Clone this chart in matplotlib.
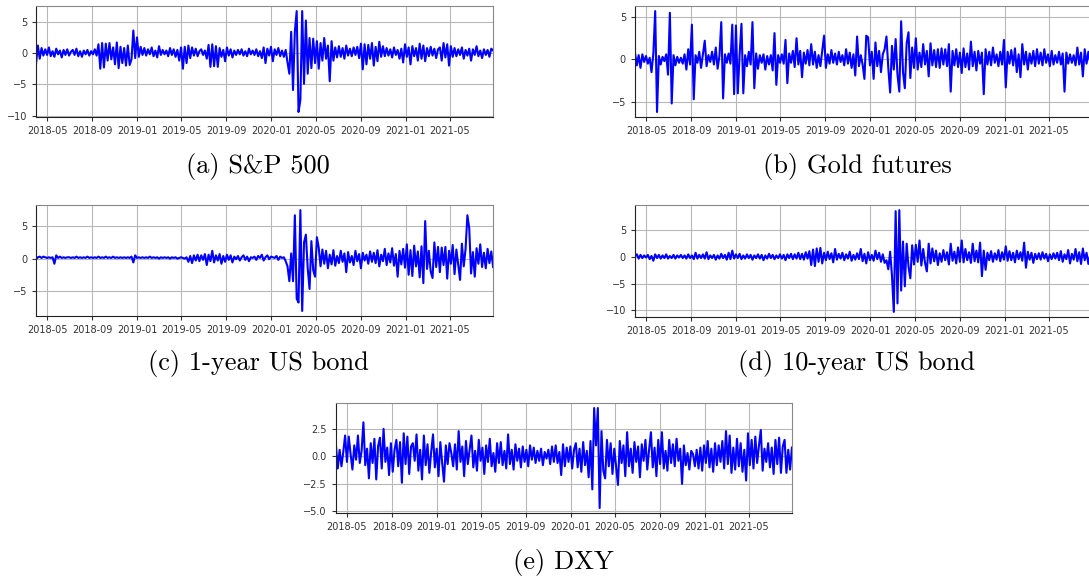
import matplotlib
matplotlib.use('Agg')
import matplotlib.pyplot as plt
import matplotlib.dates as mdates
import numpy as np
import pandas as pd

# sampled daily returns (standardised), roughly every 5 days from 2018-04-01 to 2021-08-27
start_date = '2018-04-01'
end_date = '2021-08-27'

sp500 = [
    -1.7, 1.2, -0.9, 0.8, -0.4, 0.6, -0.3, 0.9, -0.5, 0.3,
    -0.6, 0.7, -0.2, 0.4, -0.7, 0.5, -0.3, 0.6, -0.4, 0.2,
    0.5, -0.3, 0.7, -0.5, 0.3, -0.6, 0.4, -0.2, 0.5, -0.4,
    0.3, -0.2, 0.6, -0.4, 1.4, -2.5, 1.6, -2.3, 1.5, -1.2,
    1.6, -1.0, 0.9, -1.8, 1.7, -2.4, 1.0, -1.6, 0.8, -2.0,
    1.2, -1.9, -1.0, 3.6, -0.8, 2.5, -0.6, 1.0, -0.3, 0.8,
    -0.4, 0.6, -0.2, 0.9, -0.5, 0.4, -0.7, 1.1, -0.3, 0.5,
    -0.2, 0.4, -0.5, 0.8, -0.3, 0.6, -0.6, 0.5, -1.2, 0.9,
    -2.5, 1.0, -1.6, 1.2, -0.8, 0.9, -0.4, 0.7, -0.5, 0.3,
    0.6, -0.3, 0.4, -0.9, 1.3, -2.2, 1.4, -2.1, 1.1, -2.2,
    0.8, -0.6, 0.5, -1.3, 0.9, -0.4, 0.6, -0.7, 0.4, -0.3,
    0.5, -0.2, 0.6, -0.4, 0.3, -0.5, 0.7, -0.2, 0.4, -0.3,
    0.6, -0.5, 0.3, -0.8, 0.9, -1.6, 0.7, -0.4, 1.0, -1.3,
    0.6, -0.3, 0.8, -0.5, 0.4, -0.6, 0.5, -1.5, -3.3, 3.4,
    -5.9, 3.5, 6.7, -9.4, -7.5, 6.7, -4.9, 5.2, -3.3, 2.4,
    -2.4, 2.3, -1.6, 1.9, -2.5, 1.6, -1.2, 2.4, -0.9, 1.2,
    -4.5, 1.9, -1.2, 0.9, -0.7, 1.1, -0.6, 0.8, -0.9, 1.2,
    -0.4, 0.7, -0.5, 0.9, -0.3, 1.0, -0.8, 1.5, -2.6, 1.4,
    -1.8, 1.3, -0.9, 1.6, -2.0, 1.0, -1.3, 1.8, -0.6, 1.1,
    -0.5, 0.8, -0.4, 0.6, -0.7, 0.9, -0.3, 0.5, -0.9, 0.7,
    -1.5, 1.4, -0.6, 0.9, -1.8, 1.1, -0.5, 0.8, -1.2, 1.5,
    -0.9, 1.2, -1.3, 0.8, -0.5, 1.0, -0.4, 0.7, -0.8, 0.6,
    0.9, -1.2, 1.6, -0.7, 1.4, -2.0, 1.1, -0.6, 0.8, -0.5,
    0.6, -0.3, 0.9, -0.9, 0.5, -0.4, 0.7, -1.2, 0.6, -0.3,
    1.1, -0.5, 0.4, -0.8, 0.6, -0.3, 0.5, -0.6, 0.7, 0.4,
]

gold = [
    0.8, -0.7, 0.5, -1.0, 0.6, -0.3, 0.4, -0.5, 0.2, -1.5,
    0.7, 5.7, -6.2, 0.4, -0.6, 0.3, -0.2, 0.6, -1.8, 5.5,
    -5.2, 0.5, -0.7, 0.3, -0.4, 0.2, -0.5, 0.6, -1.2, 1.2,
    -0.6, 4.1, -4.7, 0.5, -0.4, 0.9, -1.0, 0.6, 2.2, -0.8,
    0.5, -0.3, 0.9, -0.6, 1.4, -1.1, 0.4, 4.4, -4.6, 0.6,
    -0.4, 0.7, -0.5, 4.1, -4.1, 4.0, -4.0, 0.6, 4.2, -4.0,
    0.5, -0.8, 0.9, -0.6, 4.4, -3.4, 0.7, -1.1, 0.5, -0.4,
    0.6, -1.2, 0.4, -0.6, 0.5, -1.3, 3.1, -3.0, 0.5, -0.4,
    0.6, -0.5, 2.3, -2.8, 0.7, -0.4, 1.0, -0.9, 2.5, -0.6,
    1.0, -2.1, 0.8, -0.5, 1.1, -0.7, 1.8, -0.6, 0.9, -1.0,
    0.5, -0.8, 1.0, 2.8, -1.0, 0.6, -0.5, 1.1, -0.4, 0.7,
    -0.6, 0.9, -0.3, 0.5, -0.7, 1.2, -0.5, 0.8, -1.0, 0.6,
    -1.9, 2.7, -0.8, 0.5, -0.6, -2.3, 2.8, 2.6, -0.7, 0.9,
    -2.3, 2.0, -0.8, 1.0, -1.5, 0.6, 1.2, 2.7, -1.0, -3.9,
    1.6, -1.2, 2.4, -1.8, -3.8, 4.5, -1.5, -3.4, 1.9, 3.2,
    -2.2, 1.4, -1.0, 2.5, -1.2, 0.8, -0.9, 1.8, -0.6, 1.0,
    -2.0, 1.9, -0.7, 1.1, -0.9, 1.2, -1.0, 1.3, -0.6, 1.2,
    -0.8, 1.8, -3.8, 1.0, -0.7, 1.2, -0.9, 0.8, -1.6, 1.3,
    -0.9, 0.7, -1.2, 2.1, -0.8, 0.9, -1.3, 1.0, -0.5, 0.8,
    -4.1, 1.2, -0.6, 0.9, -0.7, 1.4, -0.4, 0.6, -0.8, 0.9,
    -0.6, 2.3, -3.3, 0.9, -0.5, 1.1, -0.7, 1.3, -1.5, 0.6,
    -2.1, 1.8, -0.6, 0.9, -1.2, 0.7, -0.5, 1.0, -0.8, 1.2,
    -0.5, 0.8, -0.7, 1.2, -0.4, 0.6, -0.8, 1.0, -0.6, 0.5,
    -0.4, 0.9, -0.6, 0.7, -3.8, 0.8, -0.5, 0.6, -0.4, 0.5,
    -0.7, 1.4, -0.6, 0.8, -2.0, 1.2, -0.5, 0.9, -0.4, 0.5,
]

bond_1y = [
    -0.1, 0.2, 0.3, 0.1, 0.3, 0.2, 0.1, 0.2, 0.1, 0.2,
    -0.8, 0.5, 0.1, 0.3, 0.1, 0.2, 0.1, 0.2, 0.2, 0.1,
    0.2, 0.1, 0.3, 0.1, 0.2, 0.1, 0.2, 0.1, 0.3, 0.1,
    0.2, 0.1, 0.2, 0.1, 0.3, 0.1, 0.2, 0.1, 0.3, 0.1,
    0.2, 0.1, 0.3, 0.1, 0.2, 0.1, 0.2, 0.1, 0.2, 0.1,
    0.2, 0.1, 0.3, -0.6, 0.5, 0.1, 0.2, 0.1, 0.2, 0.1,
    0.2, 0.1, 0.3, 0.1, 0.2, 0.1, 0.2, 0.0, 0.2, 0.1,
    0.2, 0.1, 0.2, 0.0, 0.2, 0.1, 0.2, 0.0, 0.1, 0.2,
    0.1, 0.0, 0.2, -0.5, 0.4, -0.7, 0.5, -0.3, 0.6, -0.4,
    0.5, -0.2, 0.7, -1.0, 0.6, -0.4, 1.2, -0.6, 0.5, -0.3,
    0.7, -0.8, 0.4, -0.5, 0.6, -0.2, 0.5, -0.6, 0.3, -0.1,
    0.4, -0.3, 0.2, 0.5, -0.2, 0.3, -0.4, 0.2, 0.1, 0.3,
    -0.2, 0.4, 0.1, 0.6, -0.3, 0.2, 0.5, -0.1, 0.3, 0.2,
    0.1, 0.4, -0.2, 0.3, 0.1, 0.2, -0.4, -1.2, -3.5, 0.8,
    -3.5, 6.7, -6.2, -6.8, 7.5, -8.1, 2.5, 3.7, -1.5, -4.7,
    2.7, -1.8, -2.8, 3.3, 1.7, -1.2, 1.4, -0.8, 1.2, -1.5,
    0.6, -0.9, 1.3, -1.1, 0.4, -0.7, 1.2, -0.5, 0.8, -2.1,
    1.0, -0.6, 0.4, -1.0, 1.2, -0.4, 0.7, -1.5, 0.9, -0.3,
    0.6, -0.8, 1.1, -0.5, 0.9, -0.7, 1.3, -1.2, 0.6, -0.4,
    1.5, -1.0, 0.8, -0.6, 1.6, -1.1, 0.7, -2.8, 1.2, -0.9,
    1.5, -1.4, 2.2, -2.5, 1.3, -2.7, 2.0, -1.2, 1.1, -2.9,
    1.9, -3.8, 5.8, -1.6, 1.2, -2.0, -3.0, 2.5, -1.3, 1.8,
    -2.1, 1.7, -1.0, 1.8, -3.1, 1.2, -0.8, 2.1, -2.4, 1.4,
    -1.0, -3.3, 2.3, -1.2, 1.5, 6.7, 4.7, -2.3, 1.0, -2.8,
    1.6, -0.8, 2.2, -1.3, 0.9, -1.5, 1.5, -0.7, 1.1, -1.3,
]

bond_10y = [
    0.1, 0.5, -0.3, 0.4, -0.2, 0.3, -0.1, 0.4, -0.4, 0.2,
    -0.7, 0.5, -0.2, 0.4, -0.3, 0.3, -0.2, 0.5, -0.3, 0.2,
    -0.2, 0.4, -0.3, 0.3, -0.1, 0.4, -0.2, 0.3, -0.3, 0.5,
    -0.2, 0.3, -0.4, 0.8, -0.3, 0.4, -0.2, 0.5, -0.3, 0.9,
    -0.4, 0.3, -0.2, 0.4, -0.5, 0.3, -0.3, 0.6, -0.2, 0.4,
    -0.5, 0.8, -0.4, 1.2, -0.3, 0.5, -0.2, 0.6, -0.4, 0.3,
    -0.3, 0.5, -0.2, 0.4, -0.5, 0.3, -0.2, 0.5, -0.3, 0.4,
    -0.6, 0.3, -0.3, 0.6, -0.2, 0.4, -0.4, 0.3, -0.2, 0.5,
    -0.3, 0.4, -0.6, 0.5, -0.2, 0.6, -0.4, 0.5, -0.3, 0.8,
    -0.4, 0.6, -0.5, 0.9, -0.3, 1.1, -1.5, 1.4, -1.7, 1.6,
    -0.9, 1.7, -1.2, 0.8, -0.6, 1.0, -0.4, 0.7, -1.0, 1.5,
    -0.5, 0.6, -0.3, 0.8, -0.6, 0.5, -0.3, 1.0, -0.7, 0.4,
    -0.5, 0.7, -0.4, 1.5, -0.8, 0.6, -1.2, 0.9, -0.6, 0.4,
    -0.7, 1.2, -0.4, 0.8, -0.9, 0.5, -1.1, -0.6, -2.3, 1.0,
    -3.5, -10.3, 8.6, -8.7, 8.8, -6.3, 2.9, -5.5, 2.5, -1.8,
    -4.0, 2.2, -1.4, 2.3, -0.9, 3.1, -1.6, 1.5, -1.1, -2.7,
    2.5, -1.2, 1.6, -0.8, 1.2, -1.5, 0.7, -0.9, 1.3, -0.6,
    0.9, -1.4, 2.5, -0.7, 1.0, -1.2, 1.8, -0.9, 3.1, -1.0,
    1.5, -0.6, 0.9, -1.1, 2.5, -0.8, 1.2, -1.0, 2.7, -3.6,
    1.2, -2.4, 0.8, -0.6, 1.1, -0.9, 0.7, -0.5, 1.3, -0.8,
    0.9, -0.5, 2.0, -0.7, 1.1, -0.6, 0.8, -1.0, 1.2, -0.4,
    0.9, -0.7, 2.7, -2.0, 1.0, -0.5, 0.8, -1.1, 0.6, -0.4,
    0.7, -0.5, 0.9, -0.3, 0.6, -0.8, 0.5, -0.4, 0.7, -0.3,
    0.8, -0.6, 1.1, -0.9, 0.5, -0.4, 1.3, -1.2, 0.6, -0.5,
    1.5, -0.8, 0.9, -1.3, 1.6, -0.6, 0.8, -1.3, 0.4, -0.2,
]

dxy = [
    1.0, -1.1, 0.6, -0.9, 0.4, 1.9, -0.5, 1.8, 0.2, -1.2,
    1.0, -0.3, 1.9, -0.6, 0.5, 3.1, -0.8, 0.7, -2.0, 1.2,
    -0.6, 1.6, -2.1, 0.9, 1.7, -1.1, 2.5, -0.5, 0.8, -1.7,
    1.2, -1.4, 0.6, 1.5, -0.9, 1.3, -2.4, 2.1, -0.7, 1.8,
    -1.6, 0.9, 1.2, -0.4, 2.0, -1.3, 0.6, -2.1, 1.9, -0.8,
    1.1, -1.5, 0.4, 2.0, -1.0, 0.7, -1.8, 1.3, -0.6, -2.3,
    1.0, -0.7, 1.2, 0.3, -0.9, 1.1, -1.2, 2.3, -0.5, 0.9,
    -1.8, 1.4, -0.7, 0.6, 1.9, -1.0, 0.5, -1.3, 1.5, -0.4,
    0.8, -1.6, 1.0, -0.5, 1.6, -0.9, 0.3, -1.4, 1.2, -0.6,
    1.3, -0.8, 0.5, -1.1, 2.0, -0.7, 0.6, -1.2, 1.1, -0.4,
    0.7, -1.0, 0.9, -0.5, 0.6, -0.9, 1.0, -0.3, 0.8, -0.6,
    0.5, -0.4, 0.7, -0.8, 0.4, -0.2, 0.6, -0.7, 0.9, -0.5,
    1.0, -0.6, 0.4, -1.7, 1.1, -0.9, 0.8, -0.5, 0.9, -1.1,
    0.6, 1.2, -1.0, 0.7, -1.4, 1.3, -0.8, 0.5, -1.9, 1.4,
    -3.0, 4.4, 1.0, 4.4, -4.7, 2.3, -1.3, -2.0, 1.5, -0.9,
    1.2, -1.6, 0.7, -1.0, -2.6, 1.4, -0.6, 1.0, -1.8, 2.2,
    -0.9, 0.7, -1.5, 1.3, -0.5, 0.9, -1.9, 1.1, -0.4, 1.5,
    -1.2, 0.6, 2.2, -1.0, 0.8, -1.8, 1.5, -0.7, 2.2, -1.1,
    0.5, -1.3, 1.5, -0.6, 1.1, -0.9, 1.6, -0.4, 0.7, -2.5,
    1.0, -0.8, 0.3, -1.2, 0.5, 0.2, -0.9, 0.6, -1.1, 0.8,
    -1.3, 1.0, -0.6, 1.4, -1.0, 0.7, -1.4, 1.2, -0.8, 1.0,
    -0.5, 1.4, -1.1, 2.3, -0.7, 1.9, -1.5, 0.8, -1.2, 1.6,
    -0.9, 1.2, -1.4, 0.6, -2.2, 2.1, -0.8, 1.5, -1.1, 1.8,
    -0.6, 1.0, 2.4, -1.3, 0.7, -0.5, 1.2, -1.0, 0.8, -1.6,
    1.5, -0.7, 1.7, -1.5, 0.9, 1.5, -1.5, 0.6, -1.2, 0.8,
]

captions = ['(a) S&P 500', '(b) Gold futures', '(c) 1-year US bond',
            '(d) 10-year US bond', '(e) DXY']
series = [sp500, gold, bond_1y, bond_10y, dxy]

# axes boxes in figure fractions [left, bottom, width, height]
boxes = [
    [0.0331, 0.7986, 0.4197, 0.1910],
    [0.5831, 0.7986, 0.4197, 0.1910],
    [0.0331, 0.4561, 0.4197, 0.1910],
    [0.5831, 0.4544, 0.4197, 0.1927],
    [0.3085, 0.1170, 0.4187, 0.1893],
]
caption_pos = [(0.237, 0.713), (0.787, 0.713), (0.237, 0.374),
               (0.787, 0.374), (0.517, 0.031)]
yticks = [[-10, -5, 0, 5], [-5, 0, 5], [-5, 0, 5], [-10, -5, 0, 5],
          [-5.0, -2.5, 0.0, 2.5]]

fig = plt.figure(figsize=(10.89, 5.81), dpi=100)

for vals, box, cap, cpos, yt in zip(series, boxes, captions, caption_pos, yticks):
    dates = pd.date_range(start_date, end_date, periods=len(vals))
    ax = fig.add_axes(box)
    ax.plot(dates, vals, color='b', linewidth=1.5)
    ax.set_xlim(dates[0], dates[-1])
    ax.margins(y=0.05)
    ax.xaxis.set_major_locator(mdates.MonthLocator(bymonth=[1, 5, 9]))
    ax.xaxis.set_major_formatter(mdates.DateFormatter('%Y-%m'))
    ax.set_yticks(yt)
    if yt[1] == -2.5:
        ax.set_yticklabels(['\u22125.0', '\u22122.5', '0.0', '2.5'])
    ax.grid(True, color='#b8b8b8', linewidth=0.8)
    ax.tick_params(labelsize=7, length=3, colors='#333333')
    for s in ['top', 'right']:
        ax.spines[s].set_color('#888888')
    for s in ['left', 'bottom']:
        ax.spines[s].set_color('#222222')
    fig.text(cpos[0], cpos[1], cap, family='cmr10', fontsize=19,
             ha='center', va='center')

fig.savefig('out.png', dpi=100)
